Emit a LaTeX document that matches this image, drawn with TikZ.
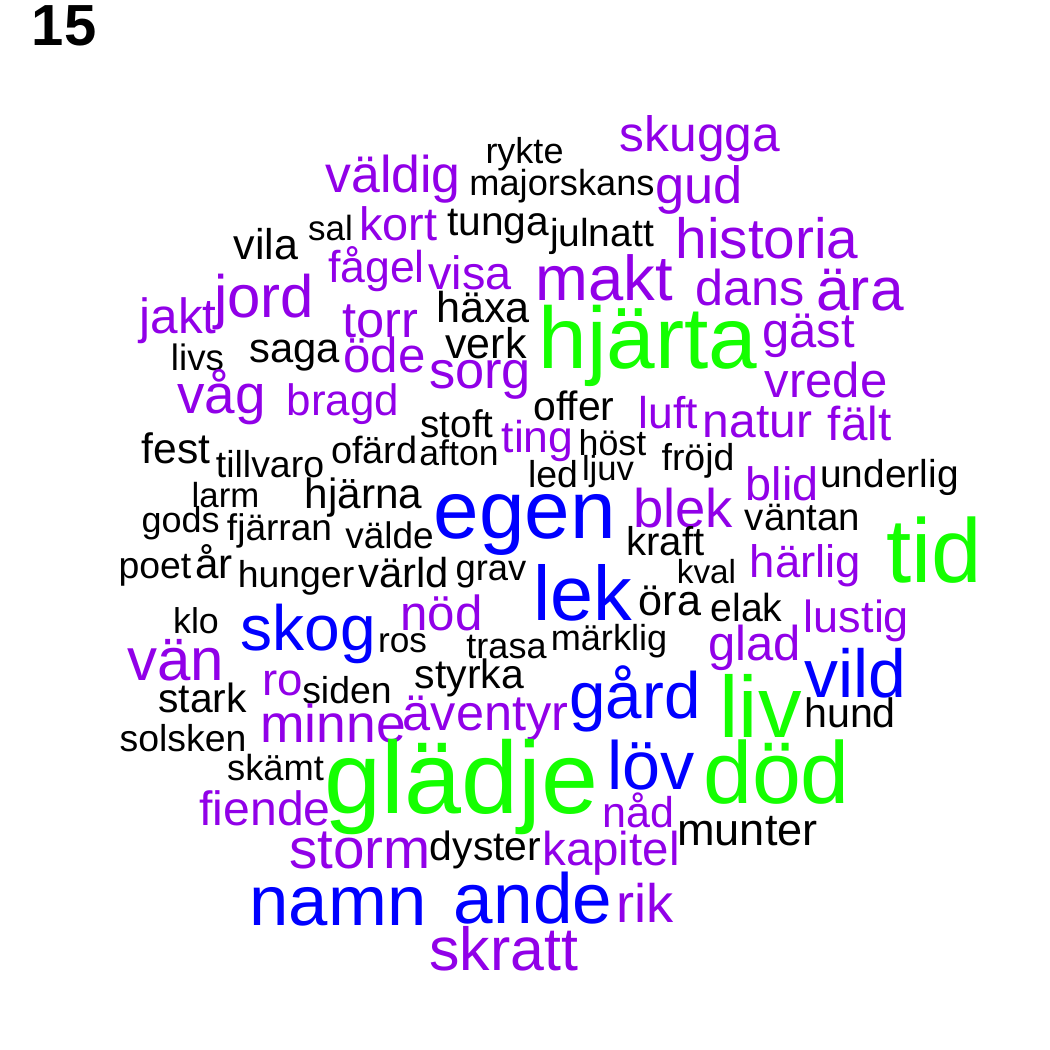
\documentclass[tikz,border=0pt]{standalone}
\usepackage{fontspec}
\setmainfont{Liberation Sans}
\usepackage{graphicx}
\definecolor{cgreen}{RGB}{20,255,0}
\definecolor{cblue}{RGB}{0,0,255}
\definecolor{cpurple}{RGB}{145,0,232}
\definecolor{cblack}{RGB}{0,0,0}
\tikzset{wordstyle/.style={anchor=base west, inner sep=0pt, outer sep=0pt}}
\newcommand\cloudword[6]{%
  \pgfmathsetmacro\cwW{#4*1.04}%
  \node[wordstyle, text=#5] (#1) at ({#2-0.02*#4},#3) {\resizebox{\cwW pt}{!}{#6}};}
\begin{document}
\begin{tikzpicture}[x=1pt,y=-1pt]
\path[use as bounding box, fill=white] (0,0) rectangle (1050,1050);
\cloudword{title}{33}{45}{62}{cblack}{\bfseries 15}
% top area
\cloudword{skugga}{623}{151}{154}{cpurple}{skugga}
\cloudword{rykte}{487}{163}{75}{cblack}{rykte}
\cloudword{valdig}{328}{192}{130}{cpurple}{väldig}
\cloudword{majorskans}{473}{195}{178}{cblack}{majorskans}
\cloudword{gud}{657}{203}{84}{cpurple}{gud}
\cloudword{sal}{309}{240}{43}{cblack}{sal}
\cloudword{kort}{361}{240}{75}{cpurple}{kort}
\cloudword{tunga}{449}{235}{98}{cblack}{tunga}
\cloudword{julnatt}{552}{246}{100}{cblack}{julnatt}
\cloudword{vila}{235}{259}{62}{cblack}{vila}
\cloudword{historia}{679}{258}{176}{cpurple}{historia}
\cloudword{fagel}{330}{282}{93}{cpurple}{fågel}
\cloudword{visa}{430}{289}{80}{cpurple}{visa}
\cloudword{makt}{538}{300}{132}{cpurple}{makt}
\cloudword{jord}{216}{317}{96}{cpurple}{jord}
\cloudword{dans}{698}{305}{105}{cpurple}{dans}
\cloudword{ara}{818}{310}{84}{cpurple}{ära}
\cloudword{jakt}{141}{333}{74}{cpurple}{jakt}
\cloudword{haxa}{438}{322}{90}{cblack}{häxa}
\cloudword{torr}{344}{337}{73}{cpurple}{torr}
\cloudword{gast}{764}{347}{89}{cpurple}{gäst}
\cloudword{livs}{172}{370}{51}{cblack}{livs}
\cloudword{saga}{251}{362}{87}{cblack}{saga}
\cloudword{ode}{345}{372}{79}{cpurple}{öde}
\cloudword{verk}{447}{358}{78}{cblack}{verk}
\cloudword{hjarta}{543}{368}{210}{cgreen}{hjärta}
\cloudword{sorg}{431}{388}{98}{cpurple}{sorg}
\cloudword{vrede}{767}{397}{118}{cpurple}{vrede}
\cloudword{vag}{179}{413}{85}{cpurple}{våg}
\cloudword{bragd}{289}{415}{108}{cpurple}{bragd}
% middle
\cloudword{offer}{535}{420}{78}{cblack}{offer}
\cloudword{luft}{640}{428}{57}{cpurple}{luft}
\cloudword{natur}{705}{437}{105}{cpurple}{natur}
\cloudword{falt}{829}{440}{61}{cpurple}{fält}
\cloudword{stoft}{422}{437}{70}{cblack}{stoft}
\cloudword{ting}{503}{452}{69}{cpurple}{ting}
\cloudword{host}{580}{455}{65}{cblack}{höst}
\cloudword{fest}{143}{463}{66}{cblack}{fest}
\cloudword{tillvaro}{218}{477}{104}{cblack}{tillvaro}
\cloudword{ofard}{333}{463}{83}{cblack}{ofärd}
\cloudword{afton}{421}{465}{76}{cblack}{afton}
\cloudword{led}{529}{487}{48}{cblack}{led}
\cloudword{ljuv}{583}{480}{50}{cblack}{ljuv}
\cloudword{frojd}{663}{470}{70}{cblack}{fröjd}
\cloudword{blid}{747}{500}{70}{cpurple}{blid}
\cloudword{underlig}{823}{487}{133}{cblack}{underlig}
\cloudword{larm}{193}{507}{65}{cblack}{larm}
\cloudword{hjarna}{307}{508}{113}{cblack}{hjärna}
\cloudword{egen}{437}{538}{175}{cblue}{egen}
\cloudword{blek}{635}{527}{96}{cpurple}{blek}
\cloudword{gods}{143}{532}{75}{cblack}{gods}
\cloudword{fjarran}{229}{540}{101}{cblack}{fjärran}
\cloudword{valde}{347}{548}{85}{cblack}{välde}
\cloudword{vantan}{747}{530}{111}{cblack}{väntan}
\cloudword{kraft}{628}{555}{75}{cblack}{kraft}
\cloudword{tid}{888}{582}{92}{cgreen}{tid}
\cloudword{poet}{120}{578}{70}{cblack}{poet}
\cloudword{ar}{196}{578}{36}{cblack}{år}
\cloudword{hunger}{240}{587}{112}{cblack}{hunger}
\cloudword{varld}{360}{587}{87}{cblack}{värld}
\cloudword{grav}{457}{580}{68}{cblack}{grav}
\cloudword{lek}{535}{620}{95}{cblue}{lek}
\cloudword{kval}{678}{583}{57}{cblack}{kval}
\cloudword{harlig}{752}{577}{107}{cpurple}{härlig}
\cloudword{ora}{640}{615}{60}{cblack}{öra}
\cloudword{elak}{712}{621}{69}{cblack}{elak}
\cloudword{klo}{174}{633}{44}{cblack}{klo}
\cloudword{skog}{243}{650}{130}{cblue}{skog}
\cloudword{nod}{402}{630}{79}{cpurple}{nöd}
\cloudword{lustig}{806}{632}{101}{cpurple}{lustig}
\cloudword{ros}{379}{652}{47}{cblack}{ros}
\cloudword{trasa}{468}{658}{77}{cblack}{trasa}
\cloudword{marklig}{553}{650}{112}{cblack}{märklig}
\cloudword{glad}{710}{660}{89}{cpurple}{glad}
\cloudword{van}{129}{680}{93}{cpurple}{vän}
\cloudword{vild}{806}{697}{98}{cblue}{vild}
% lower
\cloudword{stark}{160}{712}{85}{cblack}{stark}
\cloudword{ro}{263}{695}{39}{cpurple}{ro}
\cloudword{siden}{304}{703}{86}{cblack}{siden}
\cloudword{styrka}{417}{688}{105}{cblack}{styrka}
\cloudword{gard}{572}{718}{126}{cblue}{gård}
\cloudword{liv}{721}{737}{79}{cgreen}{liv}
\cloudword{minne}{263}{742}{140}{cpurple}{minne}
\cloudword{aventyr}{406}{730}{159}{cpurple}{äventyr}
\cloudword{hund}{806}{727}{88}{cblack}{hund}
\cloudword{solsken}{122}{751}{122}{cblack}{solsken}
\cloudword{skamt}{229}{780}{93}{cblack}{skämt}
\cloudword{gladje}{330}{813}{263}{cgreen}{glädje}
\cloudword{lov}{609}{789}{84}{cblue}{löv}
\cloudword{dod}{706}{803}{141}{cgreen}{död}
\cloudword{fiende}{202}{825}{126}{cpurple}{fiende}
\cloudword{nad}{604}{827}{69}{cpurple}{nåd}
\cloudword{munter}{680}{845}{135}{cblack}{munter}
\cloudword{storm}{292}{868}{136}{cpurple}{storm}
\cloudword{dyster}{432}{860}{107}{cblack}{dyster}
\cloudword{kapitel}{545}{865}{132}{cpurple}{kapitel}
\cloudword{namn}{253}{925}{170}{cblue}{namn}
\cloudword{ande}{457}{923}{152}{cblue}{ande}
\cloudword{rik}{618}{922}{55}{cpurple}{rik}
\cloudword{skratt}{432}{970}{143}{cpurple}{skratt}
\end{tikzpicture}
\end{document}
